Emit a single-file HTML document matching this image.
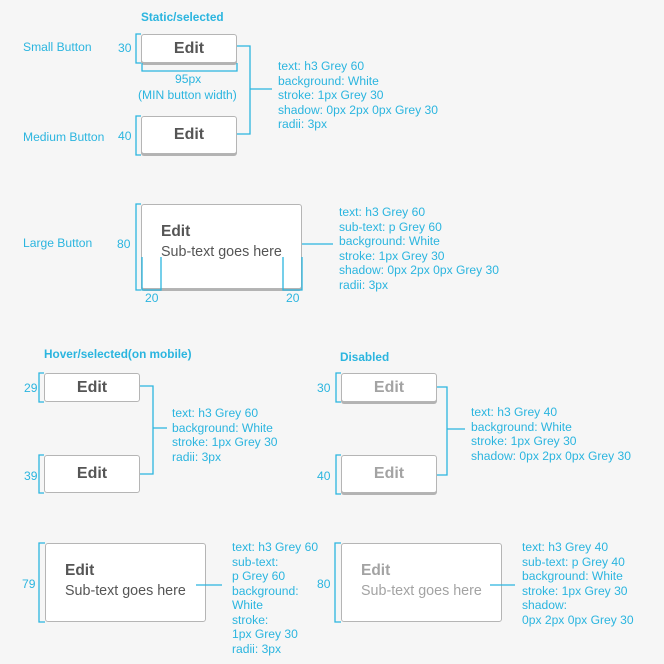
<!DOCTYPE html>
<html><head><meta charset="utf-8"><style>
body{margin:0;width:664px;height:664px;background:#f6f6f6;position:relative;overflow:hidden;font-family:"Liberation Sans",Arial,sans-serif}
.t{position:absolute;color:#2bb5df;font-size:12.1px;line-height:14.5px;white-space:nowrap}
.h{position:absolute;color:#2bb5df;font-size:11.8px;font-weight:bold}
.b{position:absolute;background:#fff;border:1px solid #b5b5b5;border-radius:3px;box-sizing:border-box;text-align:center;color:#555;font-weight:bold;font-size:16px}
.s{box-shadow:0 2px 0 #b3b3b3}
.dis{color:#a3a3a3}
.big{text-align:left;padding-left:19px}
.big .e{position:absolute;top:18px;font-size:15.5px}
.big .p{position:absolute;top:39px;font-size:14.3px;font-weight:normal;white-space:nowrap}
svg{position:absolute;left:0;top:0}
</style></head><body>
<div class="h" style="left:141px;top:10px">Static/selected</div>
<div class="h" style="left:44px;top:347px">Hover/selected(on mobile)</div>
<div class="h" style="left:340px;top:350px">Disabled</div>
<div class="t" style="left:23px;top:40px">Small Button</div>
<div class="t" style="left:23px;top:130px">Medium Button</div>
<div class="t" style="left:23px;top:236px">Large Button</div>

<div class="b s" style="left:141px;top:34px;width:96px;height:29px;line-height:27px">Edit</div>
<div class="b s" style="left:141px;top:116px;width:96px;height:38px;line-height:36px">Edit</div>
<div class="b s big" style="left:141px;top:204px;width:161px;height:85px"><span class="e">Edit</span><span class="p">Sub-text goes here</span></div>

<div class="b" style="left:44px;top:373px;width:96px;height:29px;line-height:27px">Edit</div>
<div class="b" style="left:44px;top:455px;width:96px;height:38px;line-height:36px">Edit</div>
<div class="b s dis" style="left:341px;top:373px;width:96px;height:29px;line-height:27px">Edit</div>
<div class="b s dis" style="left:341px;top:455px;width:96px;height:38px;line-height:36px">Edit</div>

<div class="b big" style="left:45px;top:543px;width:161px;height:79px"><span class="e">Edit</span><span class="p">Sub-text goes here</span></div>
<div class="b big dis" style="left:341px;top:543px;width:161px;height:79px"><span class="e">Edit</span><span class="p">Sub-text goes here</span></div>

<svg width="664" height="664" fill="none" stroke="#2bb5df" stroke-width="1.3">
<path d="M141 34H136V63H141"/><path d="M142 63V71H237V63"/>
<path d="M237 46H250V134H237M250 89H272"/>
<path d="M141 116H136V155H141"/>
<path d="M141 204H136V290H141"/>
<path d="M142 257V290H161V257M283 257V290H302V257"/>
<path d="M302 244H333"/>
<path d="M44 373H39V402H44"/><path d="M44 455H39V493H44"/>
<path d="M140 386H153V474H140M153 428H167"/>
<path d="M341 373H336V402H341"/><path d="M341 455H336V494H341"/>
<path d="M437 387H447V475H437M447 429H465"/>
<path d="M45 543H39V622H45"/><path d="M196 585H222"/>
<path d="M341 543H335V622H341"/><path d="M490 585H515"/>
</svg>

<div class="t" style="left:118px;top:41px">30</div>
<div class="t" style="left:118px;top:129px">40</div>
<div class="t" style="left:117px;top:237px">80</div>
<div class="t" style="left:145px;top:291px">20</div>
<div class="t" style="left:286px;top:291px">20</div>
<div class="t" style="left:24px;top:381px">29</div>
<div class="t" style="left:24px;top:469px">39</div>
<div class="t" style="left:317px;top:381px">30</div>
<div class="t" style="left:317px;top:469px">40</div>
<div class="t" style="left:22px;top:577px">79</div>
<div class="t" style="left:317px;top:577px">80</div>
<div class="t" style="left:175px;top:72px">95px</div>
<div class="t" style="left:138px;top:88px">(MIN button width)</div>

<div class="t" style="left:278px;top:59px">text: h3 Grey 60<br>background: White<br>stroke: 1px Grey 30<br>shadow: 0px 2px 0px Grey 30<br>radii: 3px</div>
<div class="t" style="left:339px;top:205px">text: h3 Grey 60<br>sub-text: p Grey 60<br>background: White<br>stroke: 1px Grey 30<br>shadow: 0px 2px 0px Grey 30<br>radii: 3px</div>
<div class="t" style="left:172px;top:406px">text: h3 Grey 60<br>background: White<br>stroke: 1px Grey 30<br>radii: 3px</div>
<div class="t" style="left:471px;top:405px">text: h3 Grey 40<br>background: White<br>stroke: 1px Grey 30<br>shadow: 0px 2px 0px Grey 30</div>
<div class="t" style="left:232px;top:540px">text: h3 Grey 60<br>sub-text:<br>p Grey 60<br>background:<br>White<br>stroke:<br>1px Grey 30<br>radii: 3px</div>
<div class="t" style="left:522px;top:540px">text: h3 Grey 40<br>sub-text: p Grey 40<br>background: White<br>stroke: 1px Grey 30<br>shadow:<br>0px 2px 0px Grey 30</div>
</body></html>
